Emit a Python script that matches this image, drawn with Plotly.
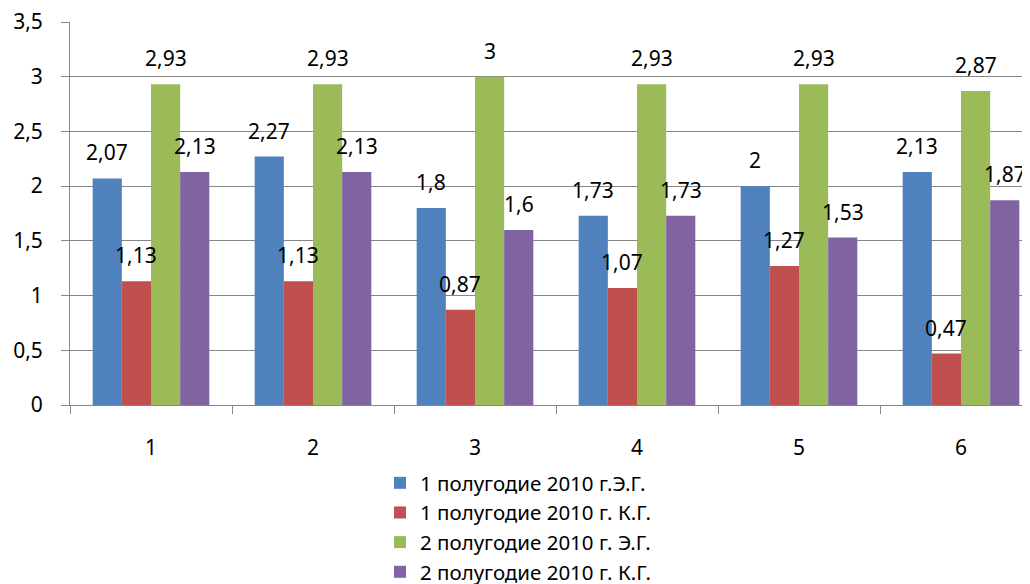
import plotly.graph_objects as go

categories = ["1", "2", "3", "4", "5", "6"]
series_names = [
    "1 полугодие 2010 г.Э.Г.",
    "1 полугодие 2010 г. К.Г.",
    "2 полугодие 2010 г. Э.Г.",
    "2 полугодие 2010 г. К.Г.",
]
s1 = [2.07, 2.27, 1.8, 1.73, 2, 2.13]
s2 = [1.13, 1.13, 0.87, 1.07, 1.27, 0.47]
s3 = [2.93, 2.93, 3, 2.93, 2.93, 2.87]
s4 = [2.13, 2.13, 1.6, 1.73, 1.53, 1.87]
colors = ["#4F81BD", "#C0504D", "#9BBB59", "#8064A2"]
y_ticks = [0, 0.5, 1, 1.5, 2, 2.5, 3, 3.5]

FONT = "'Noto Sans', 'Open Sans', sans-serif"
series = [s1, s2, s3, s4]
xpos = list(range(len(categories)))
bargap = 0.28
bw = (1 - bargap) / len(series)

def fmt(v):
    return f"{v:g}".replace(".", ",")

fig = go.Figure()
for name, vals, c in zip(series_names, series, colors):
    fig.add_trace(go.Bar(
        x=xpos, y=vals, name=name,
        marker=dict(color=c, line=dict(color=c, width=0)),
    ))

annotations = []
for j, vals in enumerate(series):
    off = (j - (len(series) - 1) / 2) * bw
    for i, v in enumerate(vals):
        annotations.append(dict(
            x=xpos[i] + off, y=v, xref="x", yref="y",
            text=fmt(v), showarrow=False, yanchor="bottom", yshift=10,
            font=dict(family=FONT, size=21, color="#000000"),
        ))

# page body has an 8px margin: figure sits at (8, 8)
W, H = 1022, 576
fig.update_layout(
    width=W, height=H,
    margin=dict(l=62, r=0, t=14, b=179),
    paper_bgcolor="white", plot_bgcolor="white",
    barmode="group", bargap=bargap, bargroupgap=0,
    separators=", ",
    font=dict(family=FONT, size=21, color="#000000"),
    showlegend=True,
    legend=dict(
        xref="paper", yref="container",
        x=(380 - 70) / 960, xanchor="left",
        y=1 - 455 / H, yanchor="top",
        font=dict(family=FONT, size=20.5, color="#000000"),
        bgcolor="rgba(0,0,0,0)", itemwidth=30,
        tracegroupgap=0,
    ),
    annotations=annotations,
)
fig.update_xaxes(
    range=[-0.5, -0.5 + 960 / 162],
    tickvals=xpos, ticktext=categories, ticks="",
    showline=True, linecolor="#868686", linewidth=1,
    showgrid=False, zeroline=False, automargin=False,
    ticklabelstandoff=24, ticklabeloverflow="allow",
    tickfont=dict(family=FONT, size=21),
    minor=dict(tick0=-0.5, dtick=1, ticks="outside", ticklen=8, tickcolor="#868686", showgrid=False),
)
fig.update_yaxes(
    range=[0, 3.5], tickvals=y_ticks, ticktext=[fmt(t) for t in y_ticks],
    showline=True, linecolor="#868686", linewidth=1,
    ticks="outside", ticklen=8, tickcolor="#868686",
    showgrid=True, gridcolor="#868686", gridwidth=1,
    zeroline=False, ticklabelstandoff=14, automargin=False,
    ticklabeloverflow="allow",
    tickfont=dict(family=FONT, size=21),
)

fig.write_html("out.html")
